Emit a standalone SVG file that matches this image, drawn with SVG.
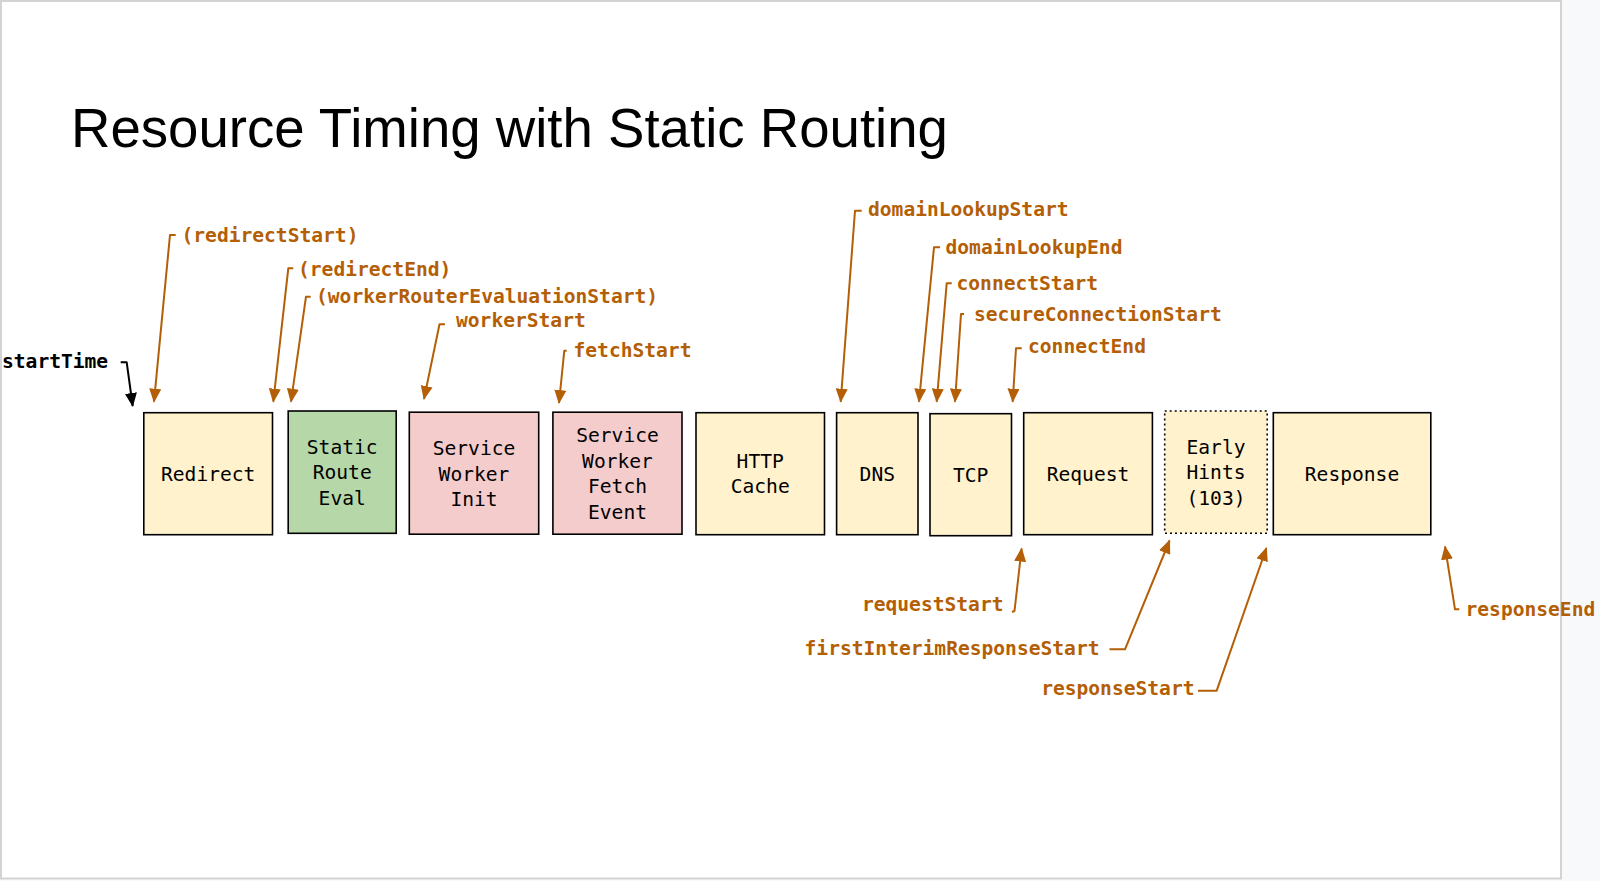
<svg xmlns="http://www.w3.org/2000/svg" width="1600" height="881" viewBox="0 0 1600 881">
  <defs>
    <style>
      .box { stroke: #000; stroke-width: 1.6; }
      .y { fill: #fff2cc; }
      .g { fill: #b6d7a8; }
      .p { fill: #f4cccc; }
      .dotted { fill: #fff2cc; stroke: #000; stroke-width: 1.6; stroke-dasharray: 2 3; }
      .bt { font-family: "DejaVu Sans Mono", "Liberation Mono", monospace; font-size: 19.6px; fill: #000; text-anchor: middle; }
      .lbl { font-family: "DejaVu Sans Mono", "Liberation Mono", monospace; font-size: 19.6px; font-weight: bold; fill: #b45f06; }
      .blk { fill: #000; }
      .end { text-anchor: end; }
      .title { font-family: "Liberation Sans", Arial, sans-serif; font-size: 54.6px; fill: #000; }
      .c { fill: none; stroke: #b45f06; stroke-width: 2; stroke-linejoin: round; marker-end: url(#ao); }
      .ck { fill: none; stroke: #000; stroke-width: 2; stroke-linejoin: round; marker-end: url(#ak); }
    </style>
    <marker id="ao" markerUnits="userSpaceOnUse" markerWidth="14" markerHeight="12" viewBox="0 0 14 12" refX="13" refY="6" orient="auto">
      <path d="M0,0 L14,6 L0,12 Z" fill="#b45f06"/>
    </marker>
    <marker id="ak" markerUnits="userSpaceOnUse" markerWidth="14" markerHeight="12" viewBox="0 0 14 12" refX="13" refY="6" orient="auto">
      <path d="M0,0 L14,6 L0,12 Z" fill="#000"/>
    </marker>
  </defs>

  <rect x="0" y="0" width="1600" height="881" fill="#f8f9fa"/>
  <rect x="1" y="1" width="1560" height="877.5" fill="#ffffff" stroke="#d3d3d3" stroke-width="2"/>

  <text class="title" x="71" y="146.5">Resource Timing with Static Routing</text>

  <g id="node-redirect">
    <rect class="box y" x="143.8" y="412.7" width="128.7" height="122"/>
    <text class="bt" x="208.2" y="480.5">Redirect</text>
  </g>
  <g id="node-static-route-eval">
    <rect class="box g" x="288.2" y="411" width="108" height="122.3"/>
    <text class="bt" x="342.2" y="453.5">Static</text>
    <text class="bt" x="342.2" y="479.3">Route</text>
    <text class="bt" x="342.2" y="505.1">Eval</text>
  </g>
  <g id="node-sw-init">
    <rect class="box p" x="409.3" y="412.2" width="129.4" height="122"/>
    <text class="bt" x="474" y="454.7">Service</text>
    <text class="bt" x="474" y="480.5">Worker</text>
    <text class="bt" x="474" y="506.3">Init</text>
  </g>
  <g id="node-sw-fetch">
    <rect class="box p" x="552.9" y="412.2" width="129.1" height="122"/>
    <text class="bt" x="617.5" y="441.8">Service</text>
    <text class="bt" x="617.5" y="467.6">Worker</text>
    <text class="bt" x="617.5" y="493.4">Fetch</text>
    <text class="bt" x="617.5" y="519.2">Event</text>
  </g>
  <g id="node-http-cache">
    <rect class="box y" x="696" y="412.7" width="128.5" height="122"/>
    <text class="bt" x="760.2" y="467.6">HTTP</text>
    <text class="bt" x="760.2" y="493.4">Cache</text>
  </g>
  <g id="node-dns">
    <rect class="box y" x="836.6" y="412.7" width="81.4" height="122"/>
    <text class="bt" x="877.3" y="480.5">DNS</text>
  </g>
  <g id="node-tcp">
    <rect class="box y" x="930" y="413.7" width="81.5" height="122"/>
    <text class="bt" x="970.7" y="481.5">TCP</text>
  </g>
  <g id="node-request">
    <rect class="box y" x="1023.7" y="412.7" width="128.7" height="122"/>
    <text class="bt" x="1088" y="480.5">Request</text>
  </g>
  <g id="node-early-hints">
    <rect class="dotted" x="1164.7" y="411" width="102.5" height="122.3"/>
    <text class="bt" x="1216" y="453.5">Early</text>
    <text class="bt" x="1216" y="479.3">Hints</text>
    <text class="bt" x="1216" y="505.1">(103)</text>
  </g>
  <g id="node-response">
    <rect class="box y" x="1273.3" y="412.7" width="157.5" height="122"/>
    <text class="bt" x="1352" y="480.5">Response</text>
  </g>

  <g id="labels">
    <text class="lbl blk" x="2" y="368">startTime</text>
    <text class="lbl" x="181.5" y="242.2">(redirectStart)</text>
    <text class="lbl" x="298" y="275.7">(redirectEnd)</text>
    <text class="lbl" x="316" y="303.3">(workerRouterEvaluationStart)</text>
    <text class="lbl" x="456" y="326.7">workerStart</text>
    <text class="lbl" x="573.5" y="356.7">fetchStart</text>
    <text class="lbl" x="868" y="216">domainLookupStart</text>
    <text class="lbl" x="945.5" y="254">domainLookupEnd</text>
    <text class="lbl" x="956.5" y="290">connectStart</text>
    <text class="lbl" x="974" y="321">secureConnectionStart</text>
    <text class="lbl" x="1028" y="352.7">connectEnd</text>
    <text class="lbl end" x="1003.5" y="610.5">requestStart</text>
    <text class="lbl end" x="1099.5" y="655">firstInterimResponseStart</text>
    <text class="lbl end" x="1194.5" y="695">responseStart</text>
    <text class="lbl" x="1465.5" y="616">responseEnd</text>
  </g>

  <g id="connectors">
    <path class="ck" d="M120.7,362.3 L126.7,362.3 L132.7,406"/>
    <path class="c" d="M175.7,235 L170,235 L154,401.7"/>
    <path class="c" d="M293.3,268.3 L288.3,268.3 L273.3,401.7"/>
    <path class="c" d="M310.7,296.7 L306,296.7 L291,401.7"/>
    <path class="c" d="M445,324.3 L439.5,324.3 L424,399"/>
    <path class="c" d="M566.7,350.7 L564.3,350.7 L559,403"/>
    <path class="c" d="M861.7,210.7 L855,210.7 L840.7,401.7"/>
    <path class="c" d="M940,247.3 L934,247.3 L919,401.7"/>
    <path class="c" d="M951.7,283.3 L946.7,283.3 L936.7,401.7"/>
    <path class="c" d="M964,314 L961,314 L955,401.7"/>
    <path class="c" d="M1021.7,348.3 L1016,348.3 L1012.7,401.7"/>
    <path class="c" d="M1012,612 L1014.5,611 L1021.6,548.5"/>
    <path class="c" d="M1109.5,649.3 L1125,649.3 L1169.6,540.5"/>
    <path class="c" d="M1198,690.7 L1216.7,690.7 L1266.4,548"/>
    <path class="c" d="M1459.3,609.3 L1455,609.3 L1445,546.5"/>
  </g>
</svg>
